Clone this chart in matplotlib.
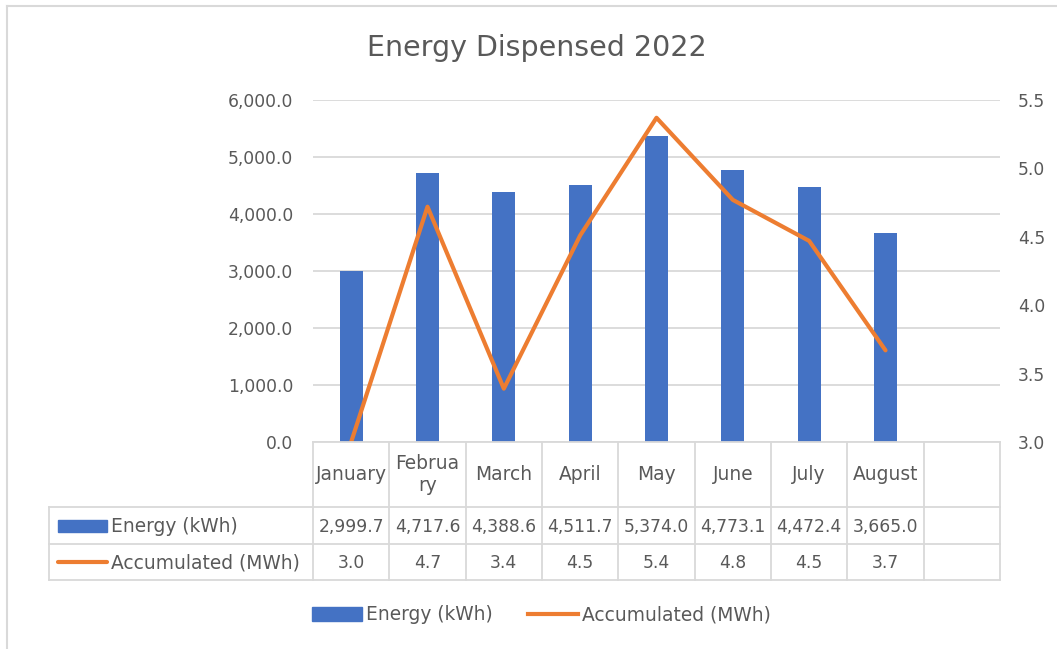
import matplotlib
matplotlib.use("Agg")
import matplotlib.pyplot as plt
from matplotlib.lines import Line2D
from matplotlib.patches import Rectangle, Patch
import matplotlib.ticker as ticker
import numpy as np

months = ['January', 'February', 'March', 'April', 'May', 'June', 'July', 'August']
energy_kwh = [2999.7, 4717.6, 4388.6, 4511.7, 5374.0, 4773.1, 4472.4, 3665.0]
accum_mwh = [3.0, 4.72, 3.39, 4.51, 5.37, 4.77, 4.47, 3.67]
series_names = ['Energy (kWh)', 'Accumulated (MWh)']

BLUE = '#4472C4'
ORANGE = '#ED7D31'
GRID = '#d9d9d9'
TXT = '#595959'
FS = 12.3      # numbers
FS_W = 13.4    # words

W, H = 1057, 649
fig = plt.figure(figsize=(W / 100, H / 100), dpi=100)

# plot area in pixels: x 313..1000, y 100..442
px_l, px_r, px_t, px_b = 313, 1000, 100, 442
ax = fig.add_axes([px_l / W, 1 - px_b / H, (px_r - px_l) / W, (px_b - px_t) / H])
n_cols = len(months) + 1  # one empty column at the end, as in the original
x = np.arange(len(months))
ax.bar(x, energy_kwh, width=0.3, color=BLUE, zorder=2)
ax.set_xlim(-0.5, n_cols - 0.5)
ax.set_ylim(0, 6000)
ax.yaxis.set_major_locator(ticker.MultipleLocator(1000))
ax.yaxis.set_major_formatter(ticker.FuncFormatter(lambda v, p: f'{v:,.1f}'))
ax.grid(axis='y', color=GRID, lw=1.3)
ax.set_axisbelow(True)
ax.set_xticks([])
ax.tick_params(axis='y', length=0, pad=14.4, labelsize=FS, labelcolor=TXT)
for s in ax.spines.values():
    s.set_visible(False)

ax2 = ax.twinx()
ax2.plot(x, accum_mwh, color=ORANGE, lw=3.0, solid_capstyle='round', zorder=3)
ax2.set_ylim(3.0, 5.5)
ax2.yaxis.set_major_locator(ticker.MultipleLocator(0.5))
ax2.yaxis.set_major_formatter(ticker.FormatStrFormatter('%.1f'))
ax2.tick_params(axis='y', length=0, pad=13, labelsize=FS, labelcolor=TXT)
for s in ax2.spines.values():
    s.set_visible(False)

fig.text(537 / W, 1 - 48 / H, 'Energy Dispensed 2022', ha='center', va='center',
         fontsize=20.5, color=TXT)

# data table under the plot area
tab_l, tab_b = 49, 580
col_w = (px_r - px_l) / n_cols
x_left = -0.5 - (px_l - tab_l) / col_w
tax = fig.add_axes([tab_l / W, 1 - tab_b / H, (px_r - tab_l) / W, (tab_b - px_b) / H])
tax.set_xlim(x_left, n_cols - 0.5)
tax.set_ylim(tab_b - px_b, 0)
tax.axis('off')

rows = [0, 65, 102, 138]
lw = 1.3
tax.plot([-0.5, n_cols - 0.5], [rows[0], rows[0]], color=GRID, lw=lw, clip_on=False)
for r in rows[1:]:
    tax.plot([x_left, n_cols - 0.5], [r, r], color=GRID, lw=lw, clip_on=False)
for k in range(n_cols + 1):
    tax.plot([k - 0.5, k - 0.5], [rows[0], rows[3]], color=GRID, lw=lw, clip_on=False)
tax.plot([x_left, x_left], [rows[1], rows[3]], color=GRID, lw=lw, clip_on=False)

def wrap(name, width=7):
    return name if len(name) <= width else name[:width - 1] + '\n' + name[width - 1:]

for i, m in enumerate(months):
    tax.text(i, (rows[0] + rows[1]) / 2, wrap(m), ha='center', va='center',
             fontsize=FS_W, color=TXT, linespacing=1.15)
    tax.text(i, (rows[1] + rows[2]) / 2 + 1, f'{energy_kwh[i]:,.1f}', ha='center',
             va='center', fontsize=FS, color=TXT)
    tax.text(i, (rows[2] + rows[3]) / 2 + 1, f'{accum_mwh[i]:.1f}', ha='center',
             va='center', fontsize=FS, color=TXT)

# legend keys inside the table
key_x0 = x_left + 9 / col_w
key_x1 = x_left + 58 / col_w
y1 = (rows[1] + rows[2]) / 2
y2 = (rows[2] + rows[3]) / 2
tax.add_patch(Rectangle((key_x0, y1 - 6), key_x1 - key_x0, 12, color=BLUE))
tax.plot([key_x0, key_x1], [y2, y2], color=ORANGE, lw=3.0, solid_capstyle='round')
tax.text(key_x1 + 4 / col_w, y1 + 1, series_names[0], ha='left', va='center',
         fontsize=FS_W, color=TXT)
tax.text(key_x1 + 4 / col_w, y2 + 1, series_names[1], ha='left', va='center',
         fontsize=FS_W, color=TXT)

handles = [Patch(color=BLUE), Line2D([], [], color=ORANGE, lw=3.0)]
fig.legend(handles, series_names, loc='center', bbox_to_anchor=(541 / W, 1 - 615 / H),
           ncol=2, frameon=False, fontsize=FS_W, handlelength=2.7, handletextpad=0.2,
           columnspacing=1.9, labelcolor=TXT, handleheight=0.7)

# chart area border (left and top edges visible)
fig.add_artist(Line2D([7 / W, 7 / W], [0, 1 - 6 / H], color=GRID, lw=1.5))
fig.add_artist(Line2D([7 / W, 1], [1 - 6 / H, 1 - 6 / H], color=GRID, lw=1.5))

fig.savefig('out.png', dpi=100, facecolor='white')
